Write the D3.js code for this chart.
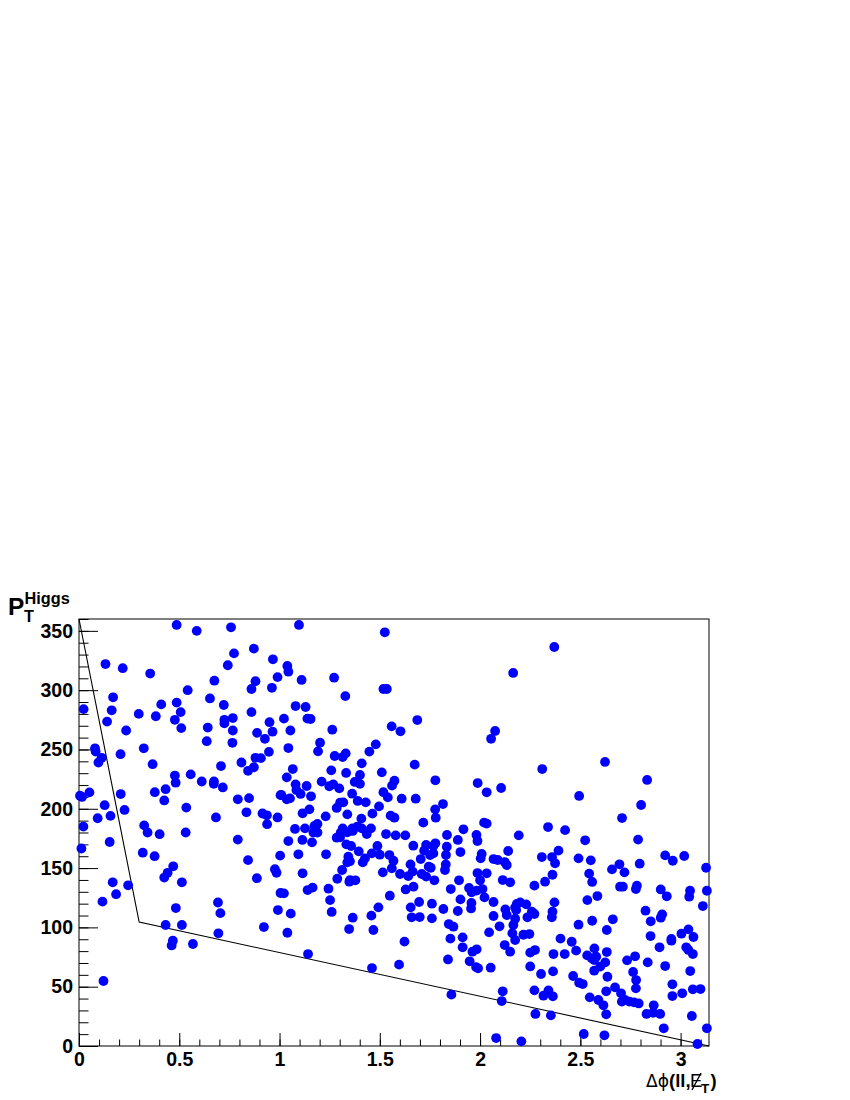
<!DOCTYPE html>
<html><head><meta charset="utf-8">
<script src="https://cdn.jsdelivr.net/npm/d3@7/dist/d3.min.js"></script>
<style>
html,body{margin:0;padding:0;background:#fff}
svg{display:block}
text{font-family:"Liberation Sans",Arial,sans-serif;font-weight:bold;fill:#000}
.tick text{font-size:19.5px;font-family:"Liberation Sans",Arial,sans-serif;font-weight:bold}
.tick line{stroke:#000;stroke-width:1}
</style></head><body>
<script>
const points = [
[.487,355],[.587,350],[.758,353],[.773,331],[.872,335],[.967,326],[.742,321],[.132,322],[.218,318.5],[.355,314],
[.675,308],[.88,307.5],[.86,301],[.962,302],[.99,311],[.542,300],[.17,294],[.653,293],[.487,289.5],[.41,288],
[.722,287.5],[.023,284],[.163,283],[.507,281.5],[.298,280],[.86,281.5],[.383,278],[.767,276.5],[.725,275],[.725,272],
[.478,275],[.14,273.5],[.95,273],[.51,268],[.642,268.5],[.235,266],[.767,266],[.965,265],[.888,264],[.927,259],
[.637,257],[.765,255.6],[.323,251],[.08,251],[.083,248.3],[.947,248],[.207,246],[.113,243],[.097,239],[.88,243],
[.907,242.7],[.81,239],[.367,237.6],[.708,236],[.872,235],[.843,232],[.478,228],[.557,229],[.612,223],[.673,223],
[.672,221],[.482,222],[.717,218],[.432,216.5],[.378,214],[.052,213.8],[.208,212.4],[.005,211],[.015,210],[.425,207],
[.792,208],[.848,209],[1.005,211.5],[.128,203],[.535,201],[.227,199],[.835,197],[.915,196],[.937,194.5],[.157,194],
[.093,192],[.683,192.7],[.99,192.7],[.938,187],[.022,185],[.325,186],[.342,180],[.402,178.6],[.532,180],[.153,172],
[.792,174],[.012,166.5],[.318,163],[.377,160],[.47,151.5],[.843,156.7],[.442,146],[.425,142],[.977,149],[.985,146],
[.887,141.5],[.168,138],[.513,138],[.245,135.5],[.185,128],[.117,121.7],[.693,121],[1.005,129],[.483,116.3],[.705,112],
[.992,114.6],[.513,102],[.432,102],[.922,100.3],[.695,95],[.468,88.8],[.462,84.8],[.568,86],[.122,54.8],
[1.097,355],[1.525,348.8],[1.039,320.4],[1.044,315.6],[1.11,308.6],[1.272,310.5],[1.518,301],[1.535,301],[1.328,295],[1.08,286.6],
[1.13,285.8],[1.022,276],[1.139,276],[1.155,275.7],[1.687,274.8],[1.054,266],[1.263,266.7],[1.559,269.5],[1.603,265.3],[1.202,255.7],
[1.192,248.4],[1.044,251.2],[1.48,254.3],[1.275,244.5],[1.315,243.6],[1.33,246.7],[1.448,248.2],[1.41,238.3],[1.674,237.2],[1.066,233.5],
[1.036,226.5],[1.258,232.4],[1.332,230.2],[1.21,222.9],[1.51,230.7],[1.401,228.5],[1.385,222.9],[1.375,222.6],[1.401,221],[1.08,220.6],
[1.135,219.2],[1.248,219],[1.268,220.6],[1.298,217.2],[1.084,215.8],[1.573,223.7],[1.561,219.5],[1.777,224],[1.988,221.7],[2.033,213.9],
[1.518,214],[1.54,209.6],[1.009,211.6],[1.105,212.5],[1.157,210.5],[1.036,208],[1.052,208.8],[1.362,212.7],[1.609,208.5],[1.679,208.5],
[1.39,206.6],[1.43,205.4],[1.302,205.1],[1.318,205.4],[1.285,200.7],[1.496,202],[1.815,204],[1.776,199.5],[1.779,192.5],[1.149,199.5],
[1.115,196.2],[1.338,195.3],[1.23,193.6],[1.463,195.9],[1.554,194.2],[1.573,192.5],[1.408,191.7],[1.717,188.3],[2.02,188.3],[2.033,187.5],
[1.077,183],[1.127,183.5],[1.174,185.5],[1.189,187.2],[1.315,183.5],[1.363,183.5],[1.388,185],[1.41,183.5],[1.456,183.5],[1.917,182.7],
[1.169,180],[1.189,180],[1.285,175.6],[1.302,175.9],[1.305,179.9],[1.338,180.1],[1.365,181.3],[1.435,178.7],[1.531,178.7],[1.579,177.6],
[1.627,177.6],[1.835,177.9],[1.982,177.9],[1.987,172.8],[1.889,173.7],[1.044,172.8],[1.114,173.7],[1.162,171.7],[1.667,168.9],[1.731,169.5],
[1.777,170.9],[1.767,168.6],[1.834,168],[1.721,164.7],[1.751,161],[1.767,162.4],[1.83,161],[1.902,163.5],[2.008,161.9],[2.003,158.2],
[1.003,160.5],[1.094,161.6],[1.232,161.6],[1.333,170],[1.357,168.6],[1.395,164.1],[1.488,168.6],[1.343,159.6],[1.338,154.8],[1.351,155.7],
[1.415,154.8],[1.426,158.2],[1.46,162.4],[1.5,161.3],[1.548,161],[1.568,156.2],[1.704,157.6],[1.653,153.1],[1.744,151.2],[1.754,150.3],
[1.829,153.1],[1.825,148.4],[1.56,149.8],[1.312,148.4],[1.115,145.6],[1.515,146.4],[1.601,145],[1.642,143.3],[1.664,147],[1.709,145],
[1.731,142.8],[1.987,145.8],[2.033,145.6],[1.772,139.7],[1.895,139.7],[2,139.7],[1.288,141],[1.352,139.9],[1.348,138.5],[1.378,139.7],
[1.244,132.6],[1.14,131.5],[1.165,133.5],[1.022,128.7],[1.668,134.3],[1.629,132],[1.854,132.3],[1.945,133.2],[1.958,129.5],[1.983,131],
[2.012,132.3],[1.55,126.7],[1.252,123],[2.022,125.3],[1.902,123.6],[1.696,121.4],[1.76,120],[1.957,120.6],[1.955,116],[1.654,116.9],
[1.817,115.5],[1.493,116.9],[1.889,113.8],[1.26,113],[1.056,111.6],[1.458,109.9],[1.365,108.2],[1.659,108.5],[1.699,108.7],[1.76,107.6],
[1.844,102.8],[1.867,100.6],[1.347,98.6],[1.468,97.8],[1.039,95.5],[1.852,90.5],[1.913,91.6],[2.045,95.8],[1.623,88],[1.913,83.2],
[1.962,79.5],[1.983,81.5],[1.142,77.5],[1.84,73],[1.948,71.4],[1.596,68.6],[1.98,66.5],[1.99,65.5],[1.461,65.7],[2.053,66],[1.857,43.3],
[2.193,177.6],[2.424,182],[2.524,173.4],[2.788,174],[2.14,164.4],[2.391,164.7],[2.067,157.6],[2.088,156.8],[2.123,155.1],[2.133,152.6],
[2.308,159.3],[2.359,159.3],[2.374,154],[2.491,158.2],[2.552,156.5],[2.923,160.7],[2.961,156.2],[3.018,160.2],[2.695,153.2],[2.658,148.9],
[2.72,146.4],[2.796,153.7],[3.127,150.3],[2.361,144.4],[2.544,145.3],[2.113,139.9],[2.15,138],[2.324,138.5],[2.271,135.2],[2.559,138.3],
[2.698,134.3],[2.712,134.3],[2.782,135.2],[2.777,132.3],[2.901,132],[2.931,126.2],[3.047,130.9],[3.043,125.9],[3.131,130.9],[2.585,126.4],
[2.535,123],[2.067,121.4],[2.2,121.1],[2.183,119.7],[2.23,119.4],[2.175,116.9],[2.18,114.6],[2.371,121.1],[2.126,115.2],[2.133,110.4],
[3.111,118],[2.361,113.2],[2.358,108.5],[2.258,113.2],[2.271,111.3],[2.236,108.5],[2.067,109.6],[2.175,107.3],[2.166,102],[2.825,114.1],
[2.908,111],[2.901,108.2],[2.851,105.1],[2.662,106.8],[2.559,105.6],[2.491,102.3],[2.097,100.9],[2.632,97.8],[2.161,95],[2.175,89.3],
[2.216,93.8],[2.246,94.4],[3.039,98.3],[3.004,94.7],[3.064,91.9],[2.85,92.7],[2.954,90.2],[2.954,88.8],[2.401,90.5],[2.457,87.9],
[2.123,85.1],[2.15,79.5],[3.028,83.2],[3.039,81],[3.061,77.5],[2.895,83.2],[2.479,80.4],[2.274,80.9],[2.25,78.7],[2.366,77.5],
[2.422,77.5],[2.57,82.3],[2.632,79.2],[2.534,76.4],[2.557,73.9],[2.579,75.3],[2.569,72.5],[2.773,75.6],[2.733,72.2],[2.624,70.5],
[2.599,66.9],[2.569,63.5],[2.836,70.5],[2.923,67.4],[2.25,67.1],[3.048,63.2],[2.763,62.4],[2.778,55.6],[2.364,62.9],[2.304,60.7],
[2.635,58.4],[2.464,59],[2.494,53.4],[2.512,52.2],[2.959,52],[2.959,42.1],[2.673,49.4],[2.777,48.6],[2.629,46.1],[2.113,46.1],
[2.271,46.9],[3.061,47.8],[3.099,48],[3.008,44.4],[2.341,46.9],[2.316,42.4],[2.363,41.9],[2.703,44.4],[2.723,38.8],[2.707,37.4],
[2.547,41],[2.59,38.8],[2.615,34.3],[2.745,37.4],[2.768,36.8],[2.791,35.9],[2.108,37.9],[2.866,34.3],[2.83,27],[2.863,28],
[2.898,27],[2.276,27],[2.353,25.8],[2.629,26.7],[3.056,25.3],[2.916,14.9],[3.131,14.9],[2.517,10.1],[2.62,9],[2.08,6.7],
[2.206,3.9],[3.084,1.7],
[2.055,259],[2.075,265.6],[2.105,217.5],[2.165,314.5],[2.37,336.4],[2.31,233.5],[2.623,239.5],[2.494,210.8],[2.833,224.3],[2.803,203.2],
[2.708,192.2],[2.339,184.6]
];
const cutX = [0, 0.3, Math.PI];
const cutY = [360, 104.5, 0];
const xMajor = [0,0.5,1,1.5,2,2.5,3];
const xLabels = ["0","0.5","1","1.5","2","2.5","3"];
const xMinor = d3.range(0,32).map(i=>i/10);
const yMajor = [0,50,100,150,200,250,300,350];
const yMinor = d3.range(0,37).map(i=>i*10);

const left=79,right=709,top_=619,bottom=1046;
const x=d3.scaleLinear().domain([0,Math.PI]).range([left,right]);
const y=d3.scaleLinear().domain([0,360]).range([bottom,top_]);
const svg=d3.select("body").append("svg").attr("width",850).attr("height",1100);

svg.append("path").datum(cutX.map((v,i)=>[v,cutY[i]]))
  .attr("fill","none").attr("stroke","#000").attr("stroke-width",1.1)
  .attr("d",d3.line().x(d=>x(d[0])).y(d=>y(d[1])));

const gx=svg.append("g").attr("transform",`translate(0,${bottom})`);
gx.append("g").call(d3.axisBottom(x).tickValues(xMinor).tickSize(-6.5).tickFormat("")).select(".domain").remove();
gx.append("g").call(d3.axisBottom(x).tickValues(xMajor).tickSize(-13).tickPadding(6).tickFormat((d,i)=>xLabels[i])).select(".domain").remove();
const gy=svg.append("g").attr("transform",`translate(${left},0)`);
gy.append("g").call(d3.axisLeft(y).tickValues(yMinor).tickSize(-9.5).tickFormat("")).select(".domain").remove();
gy.append("g").call(d3.axisLeft(y).tickValues(yMajor).tickSize(-19).tickPadding(6)).select(".domain").remove();

svg.append("rect").attr("x",left).attr("y",top_).attr("width",right-left).attr("height",bottom-top_)
  .attr("fill","none").attr("stroke","#000").attr("stroke-width",1);

svg.append("g").selectAll("circle").data(points).join("circle")
  .attr("cx",d=>x(d[0])).attr("cy",d=>y(d[1])).attr("r",4.9).attr("fill","#0000ff");

// title
svg.append("text").attr("x",8).attr("y",615).attr("font-size",24.5).text("P");
svg.append("text").attr("x",24.5).attr("y",604).attr("font-size",16.3).text("Higgs");
svg.append("text").attr("x",24).attr("y",622).attr("font-size",16.3).text("T");
// x title
svg.append("text").attr("x",646).attr("y",1087).attr("font-size",18.5).style("font-weight","normal")
  .style("font-family",'"DejaVu Sans",sans-serif').attr("textLength",23).attr("lengthAdjust","spacingAndGlyphs").text("Δϕ");
svg.append("text").attr("x",669).attr("y",1087).attr("font-size",18.5).text("(ll,");
svg.append("text").attr("x",690).attr("y",1087).attr("font-size",18.5).style("font-weight","normal").text("E");
svg.append("line").attr("x1",692).attr("y1",1090).attr("x2",701).attr("y2",1073).attr("stroke","#000").attr("stroke-width",1.4);
svg.append("text").attr("x",701).attr("y",1093).attr("font-size",13.5).text("T");
svg.append("text").attr("x",710.5).attr("y",1087).attr("font-size",18.5).text(")");
</script>
</body></html>
